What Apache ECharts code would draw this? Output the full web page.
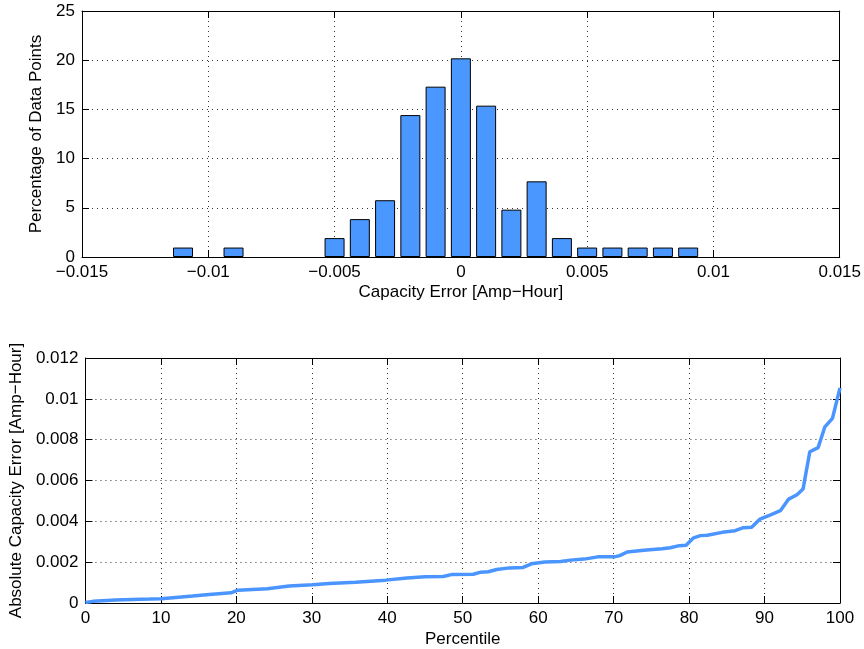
<!DOCTYPE html>
<html>
<head>
<meta charset="utf-8">
<script src="https://cdn.jsdelivr.net/npm/echarts@6/dist/echarts.min.js"></script>
<style>html,body{margin:0;padding:0;background:#fff}#c{width:864px;height:649px}</style>
</head>
<body>
<div id="c"></div>
<script>
// Histogram: bin centers (Amp-Hour) and percentage of data points
const binCenters = [-0.011, -0.009, -0.005, -0.004, -0.003, -0.002, -0.001, 0, 0.001, 0.002, 0.003, 0.004, 0.005, 0.006, 0.007, 0.008, 0.009];
const binPercent = [0.96, 0.96, 1.92, 3.85, 5.77, 14.42, 17.31, 20.19, 15.38, 4.81, 7.69, 1.92, 0.96, 0.96, 0.96, 0.96, 0.96];

// Percentile curve of absolute capacity error
const percentiles = [0, 1, 4, 8.5, 10, 11.6, 14.2, 16.4, 19.3, 20.2, 24.1, 27, 30.1, 32.3, 35.8, 39.8, 42.6, 45, 47.4, 48.5, 51.4, 52.4, 53.4, 54.5, 56.2, 58.0, 59.1, 60.9, 63.0, 64.3, 66.1, 67.9, 70.1, 70.8, 71.8, 74.0, 76.4, 77.5, 78.7, 79.6, 80.6, 81.5, 82.4, 84.4, 86.1, 87.2, 88.3, 89.4, 90.8, 92.1, 93.2, 94.3, 95.1, 96.0, 97.1, 98.0, 99.0, 100];
const absError = [0.00002, 0.00008, 0.00015, 0.00019, 0.00021, 0.00026, 0.00034, 0.00042, 0.00050, 0.00063, 0.00070, 0.00083, 0.00089, 0.00096, 0.00102, 0.00112, 0.00123, 0.00128, 0.00130, 0.00139, 0.00141, 0.00151, 0.00153, 0.00164, 0.00172, 0.00174, 0.00192, 0.00201, 0.00203, 0.00210, 0.00215, 0.00226, 0.00226, 0.00232, 0.00250, 0.00258, 0.00266, 0.00271, 0.00281, 0.00283, 0.00319, 0.00330, 0.00332, 0.00346, 0.00354, 0.00369, 0.00371, 0.00411, 0.00432, 0.00452, 0.00509, 0.00530, 0.00558, 0.00741, 0.00761, 0.00863, 0.00904, 0.01054];

const FONT = 'Liberation Sans';
const FS = 17;
const minus = v => String(+v.toPrecision(6)).replace('-', '\u2212');

function mainAxis(extra) {
  return Object.assign({
    axisLine: { show: true, onZero: false, lineStyle: { color: '#000', width: 1 } },
    axisTick: { show: true, inside: true, length: 7, lineStyle: { color: '#000' } },
    axisLabel: { color: '#000', fontFamily: FONT, fontSize: FS, margin: 7, formatter: minus },
    splitLine: { show: true, lineStyle: { color: '#333', type: [1, 4], width: 1 } },
    nameTextStyle: { color: '#000', fontFamily: FONT, fontSize: FS },
    nameLocation: 'middle'
  }, extra);
}
function mirrorAxis(extra) {
  return Object.assign({
    axisLine: { show: true, onZero: false, lineStyle: { color: '#000', width: 1 } },
    axisTick: { show: true, inside: true, length: 7, lineStyle: { color: '#000' } },
    axisLabel: { show: false },
    splitLine: { show: false }
  }, extra);
}

const option = {
  animation: false,
  backgroundColor: '#fff',
  grid: [
    { left: 82, top: 11, width: 758, height: 246 },
    { left: 82, top: 358, width: 758, height: 246 }
  ],
  xAxis: [
    mainAxis({ type: 'value', gridIndex: 0, min: -0.015, max: 0.015, interval: 0.005, name: 'Capacity Error [Amp\u2212Hour]', nameGap: 27 }),
    mirrorAxis({ type: 'value', gridIndex: 0, min: -0.015, max: 0.015, interval: 0.005, position: 'top' }),
    mainAxis({ type: 'value', gridIndex: 1, min: 0, max: 100, interval: 10, name: 'Percentile', nameGap: 28 }),
    mirrorAxis({ type: 'value', gridIndex: 1, min: 0, max: 100, interval: 10, position: 'top' })
  ],
  yAxis: [
    mainAxis({ type: 'value', gridIndex: 0, min: 0, max: 25, interval: 5, name: 'Percentage of Data Points', nameGap: 30 }),
    mirrorAxis({ type: 'value', gridIndex: 0, min: 0, max: 25, interval: 5, position: 'right' }),
    mainAxis({ type: 'value', gridIndex: 1, min: 0, max: 0.012, interval: 0.002, name: 'Absolute Capacity Error [Amp\u2212Hour]', nameGap: 56 }),
    mirrorAxis({ type: 'value', gridIndex: 1, min: 0, max: 0.012, interval: 0.002, position: 'right' })
  ],
  series: [
    {
      type: 'bar', xAxisIndex: 0, yAxisIndex: 0, barWidth: 20,
      itemStyle: { color: '#4a98ff', borderColor: '#000', borderWidth: 1 },
      data: binCenters.map((c, i) => [c, binPercent[i]])
    },
    {
      type: 'line', xAxisIndex: 2, yAxisIndex: 2, showSymbol: false, symbol: 'none',
      lineStyle: { color: '#4a95ff', width: 3.5 },
      data: percentiles.map((p, i) => [p, absError[i]])
    }
  ]
};
echarts.init(document.getElementById('c')).setOption(option);
</script>
</body>
</html>
